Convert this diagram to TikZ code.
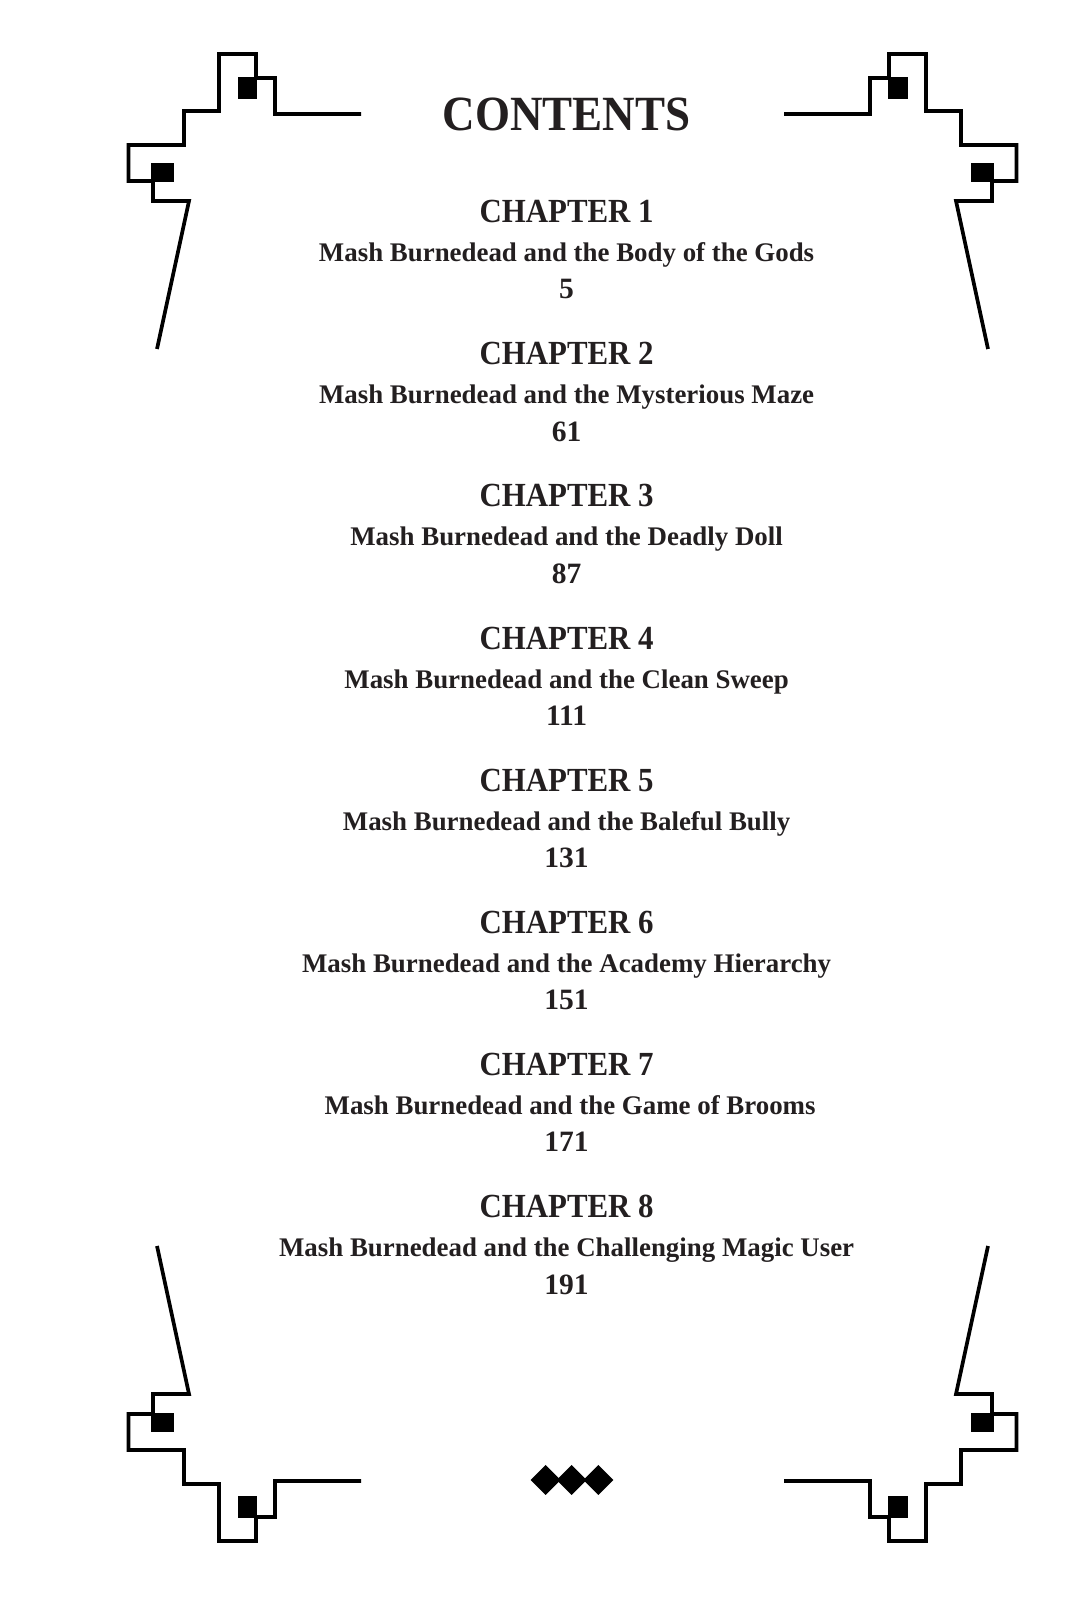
\documentclass[tikz,border=0pt]{standalone}
\usepackage{fontspec}
\setmainfont{Liberation Serif}
\newfontface\capsfont[FakeStretch=0.915]{Liberation Serif Bold}
\definecolor{ink}{HTML}{231F20}
\tikzset{
    border/.style={line width=1.05pt, black, miter limit=10},
    heading/.style={anchor=base, inner sep=0, text=ink, font=\capsfont\fontsize{9.6}{10}\selectfont},
    subtitle/.style={anchor=base, inner sep=0, text=ink, font=\bfseries\fontsize{7.65}{9}\selectfont},
    pagenum/.style={anchor=base, inner sep=0, text=ink, font=\bfseries\fontsize{8.4}{10}\selectfont},
}
\def\PlotCorner{
    \draw [border] (-2.115, 6.835) -- (-2.975, 6.835) -- (-2.975, 7.195) -- (-3.165, 7.195)
        -- (-3.165, 7.435) -- (-3.535, 7.435) -- (-3.535, 6.865) -- (-3.885, 6.865)
        -- (-3.885, 6.525) -- (-4.44, 6.525) -- (-4.44, 6.165) -- (-4.195, 6.165)
        -- (-4.195, 5.965) -- (-3.835, 5.965) -- (-4.155, 4.485);
    \fill (-3.35, 6.982) rectangle (-3.155, 7.208);
    \fill (-4.212, 6.155) rectangle (-3.985, 6.348);
}

\begin{document}
\begin{tikzpicture}
        \useasboundingbox (0, 0) rectangle (10.67, 16);

        \foreach \sx/\sy in {1/1, -1/1, 1/-1, -1/-1} {
            \begin{scope}[shift={(5.725, 8.025)}, xscale=\sx, yscale=\sy]
                \PlotCorner
            \end{scope}
        }

        \node [anchor=base, inner sep=0, text=ink, font=\capsfont\fontsize{14}{16}\selectfont] (contents) at (5.666, 14.69) {CONTENTS};

        \foreach \n/\name/\page/\shift in {
            1/Body of the Gods/5/0,
            2/Mysterious Maze/61/0,
            3/Deadly Doll/87/0,
            4/Clean Sweep/111/0,
            5/Baleful Bully/131/0,
            6/Academy Hierarchy/151/0,
            7/Game of Brooms/171/0.035,
            8/Challenging Magic User/191/0} {
            \pgfmathsetmacro{\rowy}{1.4215 * (\n - 1)}
            \node [heading] (chapter\n) at (5.666, 13.773 - \rowy) {CHAPTER \n};
            \node [subtitle] (title\n) at (5.666 + \shift, 13.383 - \rowy) {Mash Burnedead and the \name};
            \node [pagenum] (page\n) at (5.666, 13.01 - \rowy) {\page};
        }

        \foreach \x in {5.457, 5.717, 5.983} {
            \fill (\x - 0.15, 1.20) -- (\x, 1.35) -- (\x + 0.15, 1.20) -- (\x, 1.05) -- cycle;
        }
    \end{tikzpicture}
\end{document}
